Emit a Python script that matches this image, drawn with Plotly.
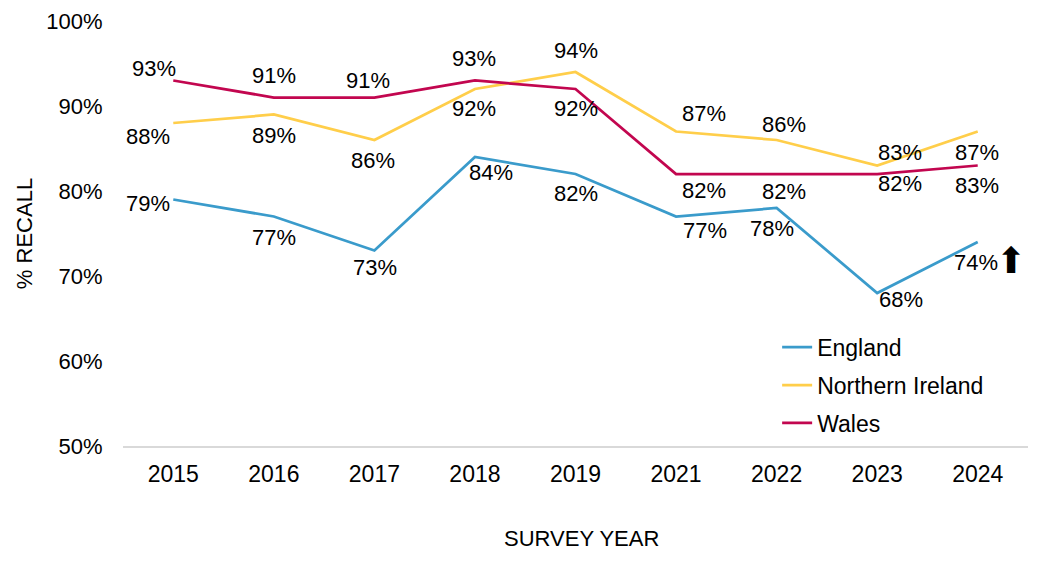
import plotly.graph_objects as go

years = ["2015", "2016", "2017", "2018", "2019", "2021", "2022", "2023", "2024"]
england = [79, 77, 73, 84, 82, 77, 78, 68, 74]
northern_ireland = [88, 89, 86, 92, 94, 87, 86, 83, 87]
wales = [93, 91, 91, 93, 92, 82, 82, 82, 83]

series_names = ["England", "Northern Ireland", "Wales"]
colors = ["#3A9BCB", "#FFCE4A", "#C2064F"]

# label offsets in pixels (dx, dy) relative to each point (dy positive = up)
eng_off = [(-25, -4), (0, -21), (1, -17), (16, -15), (0, -19), (29, -14), (-5, -20), (24, -6), (-2, -20)]
ni_off = [(-25, -13), (0, -21), (-1, -20), (-1, -19), (0, 22), (28, 18), (7, 16), (23, 13), (-1, -21)]
wa_off = [(-19, 12), (0, 22), (-6, 17), (-1, 22), (0, -19), (28, -16), (7, -17), (23, -9), (-1, -20)]

font_family = "Arial, 'Liberation Sans', sans-serif"
FS = 22

fig = go.Figure()
for name, vals, col in zip(series_names, [england, northern_ireland, wales], colors):
    fig.add_trace(go.Scatter(
        x=years, y=vals, mode="lines", name=name, legendgroup=name,
        line=dict(color=col, width=2.75), hoverinfo="skip",
    ))

annotations = []
for vals, offs in [(england, eng_off), (northern_ireland, ni_off), (wales, wa_off)]:
    for i, (v, (dx, dy)) in enumerate(zip(vals, offs)):
        annotations.append(dict(
            x=i, y=v, xref="x", yref="y", text=f"{v}%", showarrow=False,
            xshift=dx, yshift=dy, xanchor="center", yanchor="middle",
            font=dict(family=font_family, size=FS, color="#000000"),
        ))

# significance arrow next to England 2024
annotations.append(dict(
    x=len(years) - 1, y=england[-1], xref="x", yref="y", text="⬆", showarrow=False,
    xshift=33, yshift=-18, xanchor="center", yanchor="middle",
    font=dict(family="DejaVu Sans", size=36, color="#000000"),
))

# x-axis title
annotations.append(dict(
    x=0.507, y=-0.2165, xref="paper", yref="paper", text="SURVEY YEAR",
    showarrow=False, xanchor="center", yanchor="middle",
    font=dict(family=font_family, size=FS, color="#000000"),
))

fig.update_layout(
    width=1043, height=570,
    margin=dict(l=115, r=23, t=13, b=132),
    paper_bgcolor="white", plot_bgcolor="white",
    font=dict(family=font_family, size=FS, color="#000000"),
    showlegend=True,
    legend=dict(
        x=0.7228, y=0.283, xanchor="left", yanchor="top",
        bgcolor="rgba(0,0,0,0)", font=dict(size=23),
        tracegroupgap=5, itemwidth=30,
    ),
    annotations=annotations,
)
fig.update_xaxes(
    type="category", range=[-0.5, 8.5], showgrid=False, automargin=False,
    showline=True, linecolor="#D9D9D9", linewidth=1.5,
    ticks="outside", ticklen=7, tickcolor="rgba(0,0,0,0)",
    tickfont=dict(size=23),
    fixedrange=True,
)
fig.update_yaxes(
    range=[50, 100], dtick=10, ticksuffix="%", showgrid=False, automargin=False,
    zeroline=False, showline=False,
    ticks="outside", ticklen=15, tickcolor="rgba(0,0,0,0)",
    tickfont=dict(size=FS),
    title=dict(text="% RECALL", standoff=7, font=dict(size=FS)),
    fixedrange=True,
)

fig.write_html("out.html")
